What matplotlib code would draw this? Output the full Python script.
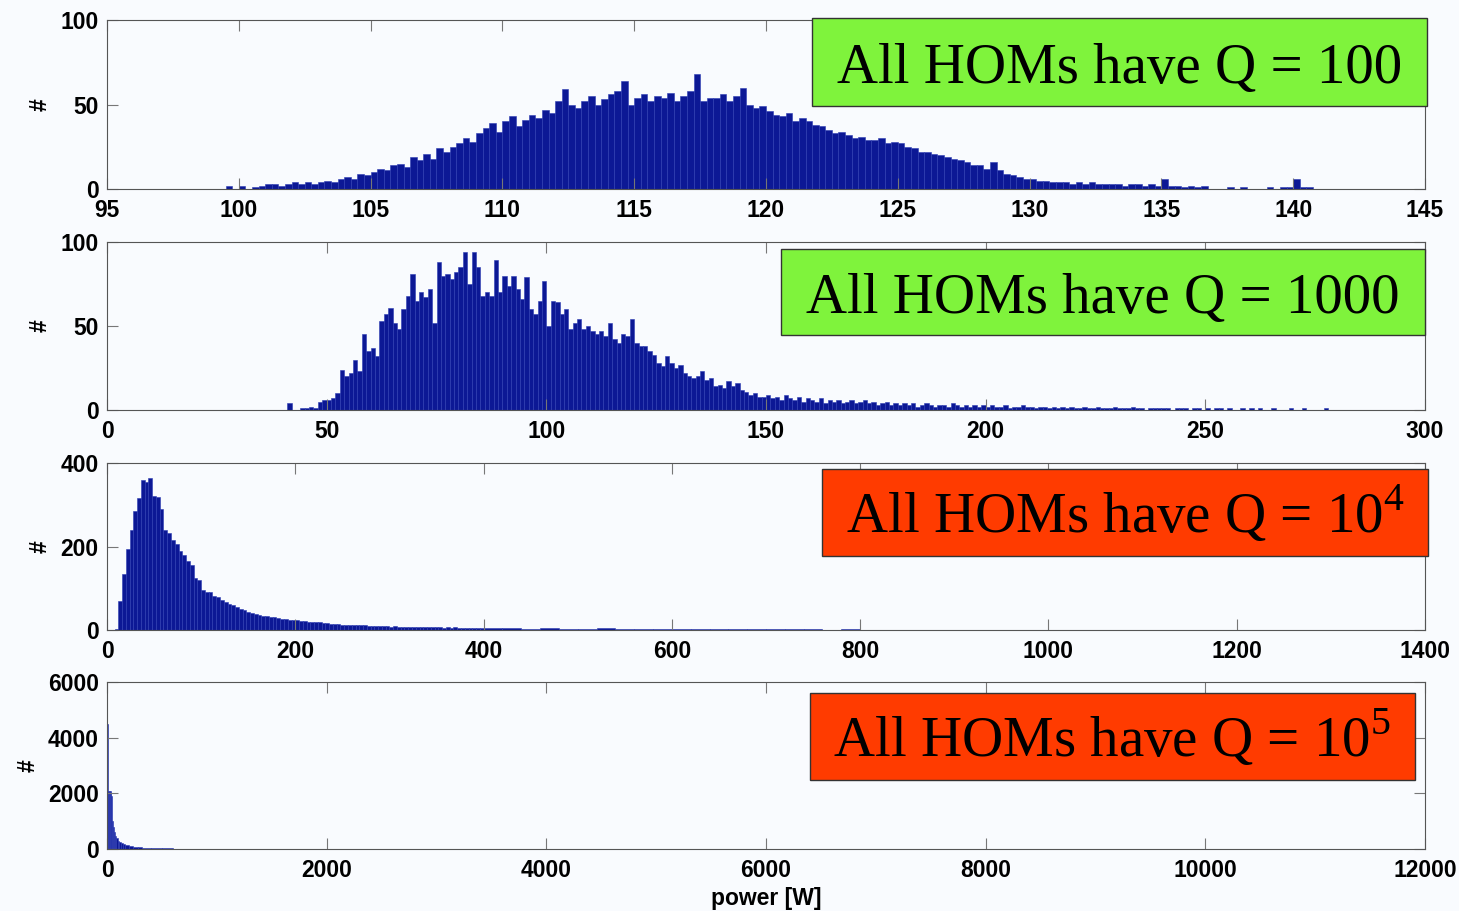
import numpy as np
import matplotlib
matplotlib.use('Agg')
import matplotlib.pyplot as plt
from matplotlib.patches import Rectangle

plt.rcParams['font.family'] = ['Liberation Sans', 'DejaVu Sans']
plt.rcParams['mathtext.fontset'] = 'custom'
plt.rcParams['mathtext.rm'] = 'Liberation Serif'

# ---------------- data (bin left edge, bin width, counts) ----------------
# panel 1 : Q = 100, bins of 0.25 W starting at 99.5 W
p1_start = 99.5
p1_width = 0.25
p1_counts = [2, 0,
             2, 0, 1, 2,   3, 3, 2, 3,   4, 3, 4, 3,   4, 5, 4, 6,
             7, 6, 9, 8,   10, 12, 11, 14,   15, 13, 19, 17,   21, 18, 24, 22,
             25, 27, 30, 28,   33, 36, 39, 34,   40, 43, 37, 41,   44, 42, 47, 45,
             52, 59, 50, 48,   52, 55, 50, 53,   56, 58, 64, 50,   54, 56, 52, 55,
             54, 57, 52, 55,   58, 68, 52, 54,   54, 56, 52, 55,   60, 50, 48, 49,
             46, 44, 43, 45,   40, 42, 40, 38,   37, 35, 33, 34,   32, 30, 31, 29,
             29, 30, 27, 28,   27, 25, 24, 22,   22, 21, 20, 19,   18, 17, 16, 14,
             14, 12, 16, 11,   9, 8, 7, 6,   6, 5, 5, 4,   4, 4, 3, 4,
             3, 4, 3, 3,   3, 3, 2, 3,   3, 2, 3, 2,   6, 2, 2, 1,
             2, 1, 2, 0,   0, 0, 1, 0,   1, 0, 0, 0,   1, 0, 1, 1,   6, 1, 1, 0]

# panel 2 : Q = 1000, bins of 1 W starting at 40 W
p2_start = 40
p2_width = 1
p2_counts = [0, 4, 0, 0, 1, 1, 2, 1, 5, 6,
             6, 7, 10, 24, 20, 22, 30, 23, 45, 35,
             37, 32, 53, 57, 61, 52, 48, 60, 68, 81,
             65, 70, 67, 72, 52, 88, 80, 81, 78, 82,
             85, 94, 75, 94, 85, 68, 70, 68, 89, 70,
             80, 74, 80, 72, 66, 79, 60, 57, 65, 77,
             50, 65, 64, 57, 60, 48, 52, 54, 48, 50,
             47, 45, 47, 44, 52, 42, 40, 45, 44, 54,
             40, 38, 38, 35, 33, 28, 26, 32, 28, 25,
             27, 22, 20, 19, 20, 23, 18, 19, 14, 15,
             13, 17, 14, 16, 12, 11, 9, 10, 8, 8,
             9, 7, 8, 6, 9, 7, 6, 8, 5, 7,
             6, 5, 7, 4, 6, 5, 6, 4, 5, 6,
             4, 5, 6, 4, 5, 3, 4, 5, 3, 4,
             3, 4, 3, 4, 2, 3, 4, 3, 2, 3,
             3, 2, 4, 3, 2, 3, 2, 3, 2, 3,
             2, 3, 2, 2, 3, 1, 2, 2, 3, 2,
             2, 1, 2, 2, 1, 2, 1, 2, 1, 2,
             1, 1, 2, 1, 1, 2, 1, 1, 1, 2,
             1, 1, 1, 2, 1, 1, 0, 1, 1, 1,
             1, 1, 0, 1, 1, 1, 0, 1, 1, 0,
             1, 0, 1, 1, 0, 1, 0, 0, 1, 0,
             1, 0, 1, 0, 0, 1, 0, 0, 0, 1,
             0, 0, 1, 0, 0, 0, 0, 1, 0, 0]

# panel 3 : Q = 1e4, 4 W bins from 8 W, then 20 W bins from 400 W
p3_start = 8
p3_width = 4
p3_counts = [3, 70, 135, 195, 240, 285, 315, 360, 355, 365,
             320, 318, 290, 240, 232, 215, 205, 190, 180, 165,
             155, 125, 120, 95, 92, 90, 82, 78, 72, 68,
             62, 60, 55, 50, 48, 43, 40, 38, 36, 34,
             33, 31, 30, 29, 27, 26, 25, 24, 23, 22,
             21, 20, 19, 18, 18, 17, 16, 15, 14, 14,
             13, 13, 12, 12, 11, 12, 11, 10, 10, 10,
             9, 10, 9, 8, 9, 8, 8, 7, 8, 7,
             7, 6, 7, 6, 7, 6, 6, 5, 6, 5,
             6, 5, 5, 4, 5, 4, 5, 4]
p3_tail_start = 400
p3_tail_width = 20
p3_tail_counts = [4, 4, 3, 4, 3, 3, 4, 3, 3, 3,
                  2, 3, 2, 2, 3, 2, 2, 2, 1, 2,
                  1, 1, 1, 0, 1, 1, 1, 0, 1, 1,
                  1, 1, 1, 1, 1, 0, 1, 1, 1, 1,
                  0, 1, 1, 0, 1]

# panel 4 : Q = 1e5, uneven bin edges
p4_edges = [0, 8, 16, 24, 32, 40, 48, 56, 64, 72, 80, 96, 112, 128, 144, 160,
            200, 240, 280, 320, 400, 500, 600, 800, 1000, 1500, 2000, 3000,
            4000, 5000, 6000, 7000, 8000, 9000, 10000, 10900]
p4_counts = [4500, 2100, 2100, 2080, 2050, 1900, 1000, 800, 600, 450, 380,
             300, 240, 200, 170, 130, 100, 80, 60, 45, 30, 20, 15, 10, 8,
             6, 5, 4, 4, 3, 3, 3, 2, 2, 2]

labels = ['All HOMs have Q = 100', 'All HOMs have Q = 1000',
          'All HOMs have Q = 10$^{4}$', 'All HOMs have Q = 10$^{5}$']
xlims = [(95, 145), (0, 300), (0, 1400), (0, 12000)]
xsteps = [5, 50, 200, 2000]
ylims = [100, 100, 400, 6000]
ysteps = [50, 50, 200, 2000]

# ---------------- figure ----------------
W, H = 1459, 911
bg = '#f9fbfe'
fig = plt.figure(figsize=(W / 100.0, H / 100.0), dpi=100, facecolor=bg)

# axes rectangles in pixels: (top, bottom)
ax_left, ax_right = 107, 1425
rows = [(20, 189), (242, 410), (463, 630), (682, 849)]

bar_face = '#0c1895'
bar_edge = '#2b3bb2'
label_size = 16.5

# bins for each panel
lefts = []
widths = []
heights = []
lefts.append(p1_start + p1_width * np.arange(len(p1_counts)))
widths.append(np.full(len(p1_counts), p1_width))
heights.append(np.array(p1_counts))
lefts.append(p2_start + p2_width * np.arange(len(p2_counts)))
widths.append(np.full(len(p2_counts), p2_width))
heights.append(np.array(p2_counts))
lefts.append(np.concatenate([p3_start + p3_width * np.arange(len(p3_counts)),
                             p3_tail_start + p3_tail_width * np.arange(len(p3_tail_counts))]))
widths.append(np.concatenate([np.full(len(p3_counts), p3_width),
                              np.full(len(p3_tail_counts), p3_tail_width)]))
heights.append(np.array(p3_counts + p3_tail_counts))
lefts.append(np.array(p4_edges[:-1]))
widths.append(np.diff(p4_edges))
heights.append(np.array(p4_counts))

axes = []
for i, (top, bot) in enumerate(rows):
    ax = fig.add_axes([ax_left / W, 1 - bot / H, (ax_right - ax_left) / W, (bot - top) / H])
    ax.set_facecolor(bg)
    ax.bar(lefts[i], heights[i], width=widths[i], align='edge',
           color=bar_face, edgecolor=bar_edge, linewidth=0.4)
    ax.set_xlim(*xlims[i])
    ax.set_ylim(0, ylims[i])
    ax.set_xticks(np.arange(xlims[i][0], xlims[i][1] + 1, xsteps[i]))
    ax.set_yticks(np.arange(0, ylims[i] + 1, ysteps[i]))
    ax.tick_params(axis='both', direction='in', top=True, right=True, length=8,
                   width=0.8, color='#777777', labelsize=label_size)
    ax.tick_params(axis='x', pad=7)
    ax.tick_params(axis='y', pad=6)
    for lab in ax.get_xticklabels() + ax.get_yticklabels():
        lab.set_fontweight('bold')
    for sp in ax.spines.values():
        sp.set_color('#555555')
        sp.set_linewidth(0.8)
    ax.set_ylabel('#', fontsize=label_size, fontweight='bold', labelpad=6)
    axes.append(ax)

axes[-1].set_xlabel('power [W]', fontsize=label_size, fontweight='bold', labelpad=4)

# label boxes (pixel coords: x0, y0, x1, y1, baseline)
boxes = [(812, 18, 1427, 106, 83, '#7ff33c'),
         (781, 249, 1425, 335, 313, '#7ff33c'),
         (822, 469, 1428, 556, 533, '#ff3b00'),
         (810, 693, 1415, 780, 757, '#ff3b00')]
for (x0, y0, x1, y1, base, col), txt in zip(boxes, labels):
    fig.patches.append(Rectangle((x0 / W, 1 - y1 / H), (x1 - x0) / W, (y1 - y0) / H,
                                 transform=fig.transFigure, facecolor=col,
                                 edgecolor='#333333', linewidth=1.0, zorder=5))
    fig.text((x0 + x1) / 2.0 / W, 1 - base / H, txt, ha='center', va='baseline',
             family='Liberation Serif', fontsize=41, color='black', zorder=6)

plt.savefig('out.png', dpi=100, facecolor=bg)
